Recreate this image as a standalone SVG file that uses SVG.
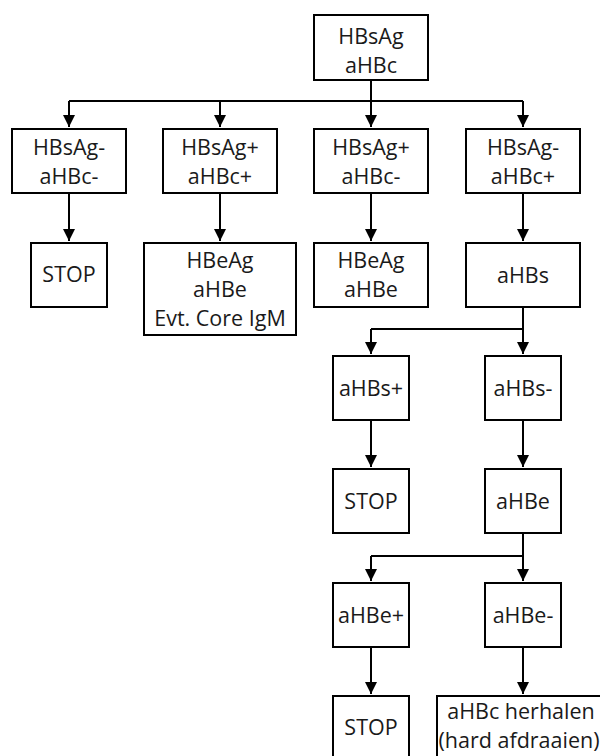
<svg xmlns="http://www.w3.org/2000/svg" width="600" height="756" viewBox="0 0 600 756">
<defs>
<style>
.box{fill:#fff;stroke:#000;stroke-width:2}
.t{font-family:"Open Sans","Liberation Sans",sans-serif;font-size:21.5px;fill:#1a1a1a;text-anchor:middle}
.c{fill:none;stroke:#000;stroke-width:2}
</style>
<marker id="ah" viewBox="0 0 12 12" refX="12" refY="6" markerWidth="12" markerHeight="12" markerUnits="userSpaceOnUse" orient="auto">
<path d="M0,0 L12,6 L0,12 z" fill="#000"/>
</marker>
</defs>
<rect width="600" height="756" fill="#fff"/>
<g id="connectors">
<path class="c" d="M371,80 V101 M69,101 H523"/>
<path class="c" d="M69,101 V127" marker-end="url(#ah)"/>
<path class="c" d="M220,101 V127" marker-end="url(#ah)"/>
<path class="c" d="M371,101 V127" marker-end="url(#ah)"/>
<path class="c" d="M523,101 V127" marker-end="url(#ah)"/>
<path class="c" d="M69,193 V241" marker-end="url(#ah)"/>
<path class="c" d="M220,193 V241" marker-end="url(#ah)"/>
<path class="c" d="M371,193 V241" marker-end="url(#ah)"/>
<path class="c" d="M523,193 V241" marker-end="url(#ah)"/>
<path class="c" d="M523,307 V329 H371"/>
<path class="c" d="M371,329 V354" marker-end="url(#ah)"/>
<path class="c" d="M523,329 V354" marker-end="url(#ah)"/>
<path class="c" d="M371,420 V467" marker-end="url(#ah)"/>
<path class="c" d="M523,420 V467" marker-end="url(#ah)"/>
<path class="c" d="M523,533 V556 H371"/>
<path class="c" d="M371,556 V581" marker-end="url(#ah)"/>
<path class="c" d="M523,556 V581" marker-end="url(#ah)"/>
<path class="c" d="M371,647 V694" marker-end="url(#ah)"/>
<path class="c" d="M523,647 V694" marker-end="url(#ah)"/>
</g>
<g id="n0"><rect class="box" x="314" y="15" width="114" height="65"/><text class="t" x="371" y="44">HBsAg</text><text class="t" x="371" y="73">aHBc</text></g>
<g id="n1"><rect class="box" x="12" y="129" width="114" height="64"/><text class="t" x="69" y="155">HBsAg-</text><text class="t" x="69" y="184">aHBc-</text></g>
<g id="n2"><rect class="box" x="163" y="129" width="114" height="64"/><text class="t" x="220" y="155">HBsAg+</text><text class="t" x="220" y="184">aHBc+</text></g>
<g id="n3"><rect class="box" x="314" y="129" width="114" height="64"/><text class="t" x="371" y="155">HBsAg+</text><text class="t" x="371" y="184">aHBc-</text></g>
<g id="n4"><rect class="box" x="466" y="129" width="114" height="64"/><text class="t" x="523" y="155">HBsAg-</text><text class="t" x="523" y="184">aHBc+</text></g>
<g id="n5"><rect class="box" x="31" y="243" width="76" height="64"/><text class="t" x="69" y="282">STOP</text></g>
<g id="n6"><rect class="box" x="144" y="243" width="152" height="92"/><text class="t" x="220" y="268">HBeAg</text><text class="t" x="220" y="297">aHBe</text><text class="t" x="220" y="326">Evt. Core IgM</text></g>
<g id="n7"><rect class="box" x="314" y="243" width="114" height="64"/><text class="t" x="371" y="268">HBeAg</text><text class="t" x="371" y="297">aHBe</text></g>
<g id="n8"><rect class="box" x="466" y="243" width="114" height="64"/><text class="t" x="523" y="283">aHBs</text></g>
<g id="n9"><rect class="box" x="333" y="356" width="76" height="64"/><text class="t" x="371" y="396">aHBs+</text></g>
<g id="n10"><rect class="box" x="485" y="356" width="76" height="64"/><text class="t" x="523" y="396">aHBs-</text></g>
<g id="n11"><rect class="box" x="333" y="469" width="76" height="64"/><text class="t" x="371" y="509">STOP</text></g>
<g id="n12"><rect class="box" x="485" y="469" width="76" height="64"/><text class="t" x="523" y="509">aHBe</text></g>
<g id="n13"><rect class="box" x="333" y="583" width="76" height="64"/><text class="t" x="371" y="623">aHBe+</text></g>
<g id="n14"><rect class="box" x="485" y="583" width="76" height="64"/><text class="t" x="523" y="623">aHBe-</text></g>
<g id="n15"><rect class="box" x="333" y="696" width="76" height="64"/><text class="t" x="371" y="735">STOP</text></g>
<g id="n16"><rect class="box" x="437" y="696" width="172" height="64"/><text class="t" x="521" y="719">aHBc herhalen</text><text class="t" x="519" y="748">(hard afdraaien)</text></g>
</svg>
